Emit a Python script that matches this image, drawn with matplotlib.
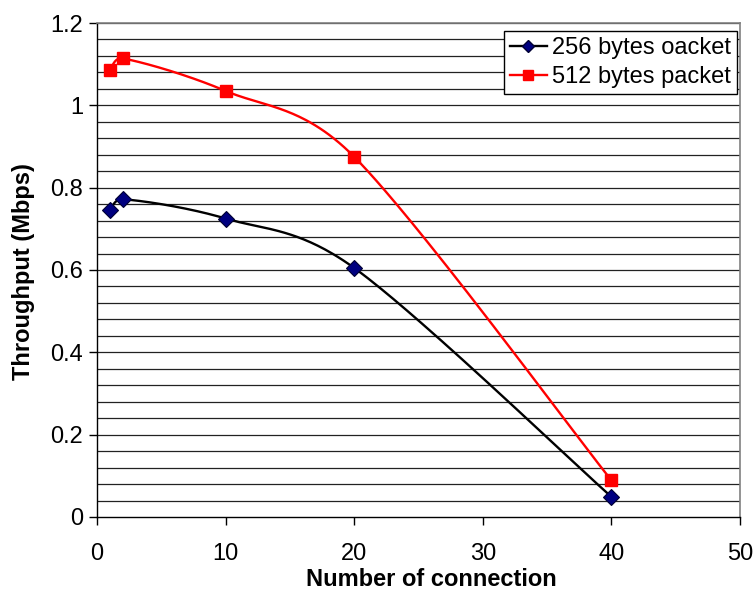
import numpy as np
import matplotlib
matplotlib.use("Agg")
import matplotlib.pyplot as plt

plt.rcParams['font.family'] = ['Liberation Sans', 'DejaVu Sans']

connections = [1, 2, 10, 20, 40]
tp_256 = [0.746, 0.772, 0.725, 0.605, 0.049]
tp_512 = [1.086, 1.114, 1.035, 0.875, 0.089]
labels = ["256 bytes oacket", "512 bytes packet"]

fig = plt.figure(figsize=(7.53, 5.93), dpi=100)
ax = fig.add_axes([0.1288, 0.1282, 0.8539, 0.8330])

XMAX, YMAX = 50, 1.2
W, H = 643.0, 494.0


def _clamp(v, lim):
    n = np.linalg.norm(v)
    return v if n <= lim or n == 0 else v * lim / n


def smooth(xs, ys, n=60, k=0.5):
    px = np.array(xs, float) / XMAX * W
    py = np.array(ys, float) / YMAX * H
    P = np.column_stack([px, py])
    m = len(P)
    out = []
    for i in range(m - 1):
        p0 = P[i - 1] if i > 0 else P[i]
        p1 = P[i]
        p2 = P[i + 1]
        p3 = P[i + 2] if i + 2 < m else P[i + 1]
        L = np.linalg.norm(p2 - p1)
        c1 = p1 + _clamp((p2 - p0) / 6.0, k * L)
        c2 = p2 - _clamp((p3 - p1) / 6.0, k * L)
        t = np.linspace(0, 1, n)[:, None]
        seg = ((1 - t) ** 3) * p1 + 3 * ((1 - t) ** 2) * t * c1 + 3 * (1 - t) * t ** 2 * c2 + t ** 3 * p2
        out.append(seg if i == 0 else seg[1:])
    S = np.vstack(out)
    return S[:, 0] / W * XMAX, S[:, 1] / H * YMAX


for yv in np.arange(0.04, 1.2001, 0.04):
    ax.axhline(yv, color='#222222', lw=0.9, zorder=1)

sx, sy = smooth(connections, tp_256)
ax.plot(sx, sy, color='black', lw=1.7, zorder=3)
ax.plot(connections, tp_256, ls='none', marker='D', ms=8, mfc='#000080', mec='#000033', mew=0.8, zorder=4)
sx, sy = smooth(connections, tp_512)
ax.plot(sx, sy, color='#ff0000', lw=1.7, zorder=3)
ax.plot(connections, tp_512, ls='none', marker='s', ms=9, mfc='#ff0000', mec='#ff0000', zorder=4)

h1, = ax.plot([], [], color='black', lw=1.7, marker='D', ms=6.5, mfc='#000080', mec='#000033')
h2, = ax.plot([], [], color='#ff0000', lw=1.7, marker='s', ms=7.5, mfc='#ff0000', mec='#ff0000')
leg = ax.legend([h1, h2], labels, loc='upper right', bbox_to_anchor=(0.9953, 0.984),
                fontsize=17, frameon=True, fancybox=False, edgecolor='black',
                framealpha=1, handlelength=1.6, handletextpad=0.2, borderpad=0.25,
                labelspacing=0.3, borderaxespad=0)
leg.get_frame().set_linewidth(1.0)
leg.set_zorder(5)

ax.set_xlim(0, XMAX)
ax.set_ylim(0, YMAX)
ax.set_xticks(np.arange(0, 51, 10))
ax.set_yticks(np.arange(0, 1.21, 0.2))
ax.set_yticklabels(["0", "0.2", "0.4", "0.6", "0.8", "1", "1.2"])
ax.tick_params(direction='out', length=6, width=1, labelsize=17, pad=4)
ax.tick_params(axis='x', pad=13)

for s in ['top', 'right']:
    ax.spines[s].set_color('#808080')
    ax.spines[s].set_linewidth(1.2)
for s in ['left', 'bottom']:
    ax.spines[s].set_color('black')
    ax.spines[s].set_linewidth(1.0)

ax.set_xlabel("Number of connection", fontsize=17, fontweight='bold')
ax.set_ylabel("Throughput (Mbps)", fontsize=17, fontweight='bold')
ax.xaxis.set_label_coords(0.52, -0.104)
ax.yaxis.set_label_coords(-0.097, 0.497)

fig.savefig("out.png", dpi=100)
